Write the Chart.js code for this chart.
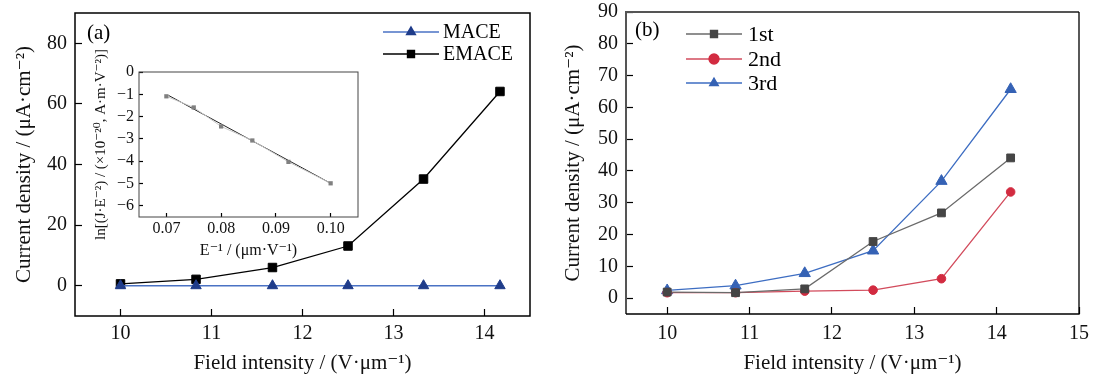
<!DOCTYPE html>
<html><head><meta charset="utf-8">
<script src="https://cdn.jsdelivr.net/npm/chart.js@4.4.0/dist/chart.umd.min.js"></script>
<style>
html,body{margin:0;padding:0;background:#fff;}
#wrap{position:relative;width:1094px;height:379px;overflow:hidden;background:#fff;}
canvas{position:absolute;}
</style></head><body>
<div id="wrap">
<canvas id="ca" width="545" height="379" style="left:0;top:0;width:545px;height:379px"></canvas>
<canvas id="ci" width="290" height="230" style="left:85px;top:40px;width:290px;height:230px"></canvas>
<canvas id="cb" width="549" height="379" style="left:545px;top:0;width:549px;height:379px"></canvas>
</div>
<script>
// ---------- DATA ----------
const fieldA = [10, 10.83, 11.67, 12.5, 13.33, 14.17];
const maceA = [0, 0, 0, 0, 0, 0];
const emaceA = [0.6, 2.1, 6.0, 13.1, 35.2, 64.1];

const invE = [0.0700, 0.0750, 0.0800, 0.0857, 0.0923, 0.1000];
const lnJE = [-1.09, -1.59, -2.44, -3.07, -4.03, -4.99];
const fitX = [0.0704, 0.1000];
const fitY = [-1.05, -4.99];

const fieldB = [10, 10.83, 11.67, 12.5, 13.33, 14.17];
const run1 = [1.9, 1.7, 2.9, 17.8, 26.8, 44.1];
const run2 = [1.7, 1.7, 2.2, 2.5, 6.1, 33.4];
const run3 = [2.4, 3.9, 7.8, 14.9, 36.8, 65.7];

const ticksAx = [10, 11, 12, 13, 14];
const ticksAy = [0, 20, 40, 60, 80];
const ticksIx = [0.07, 0.08, 0.09, 0.10];
const ticksIy = [0, -1, -2, -3, -4, -5, -6];
const ticksBx = [10, 11, 12, 13, 14, 15];
const ticksBy = [0, 10, 20, 30, 40, 50, 60, 70, 80, 90];

const labelsA = ['MACE', 'EMACE'];
const labelsB = ['1st', '2nd', '3rd'];
const titleX = 'Field intensity / (V·μm⁻¹)';
const titleY = 'Current density / (μA·cm⁻²)';
const titleIx = 'E⁻¹ / (μm·V⁻¹)';
const titleIy = 'ln[(J·E⁻²) / (×10⁻²⁰, A·m·V⁻²)]';

// ---------- HELPERS ----------
const FF = "'Liberation Serif', 'DejaVu Serif', serif";
const pts = (xs, ys) => xs.map((x, i) => ({x: x, y: ys[i]}));
const fixSize = (size) => (s) => {
  if (s.isHorizontal()) s.height = size; else s.width = size;
  s.paddingLeft = 0; s.paddingRight = 0; s.paddingTop = 0; s.paddingBottom = 0;
};
const setTicks = (arr) => (s) => { s.ticks = arr.map(v => ({value: v})); };
const minusFmt = (v) => (v < 0 ? '−' + Math.abs(v) : String(v));

const boxPlugin = {
  id: 'box',
  afterDraw(chart, args, o) {
    const a = chart.chartArea, ctx = chart.ctx;
    ctx.save();
    if (o.split) {
      ctx.lineWidth = o.tlWidth; ctx.strokeStyle = o.tlColor;
      ctx.beginPath(); ctx.moveTo(a.left, a.bottom); ctx.lineTo(a.left, a.top); ctx.lineTo(a.right, a.top); ctx.stroke();
      ctx.lineWidth = o.width; ctx.strokeStyle = o.color;
      ctx.beginPath(); ctx.moveTo(a.right, a.top); ctx.lineTo(a.right, a.bottom); ctx.lineTo(a.left, a.bottom); ctx.stroke();
    } else {
      ctx.lineWidth = o.width; ctx.strokeStyle = o.color;
      ctx.strokeRect(a.left, a.top, a.right - a.left, a.bottom - a.top);
    }
    ctx.restore();
  }
};

const legendPlugin = {
  id: 'ilegend',
  afterDraw(chart, args, o) {
    if (!o.items) return;
    const ctx = chart.ctx;
    ctx.save();
    if (o.tag) {
      ctx.font = o.tagFont + ' ' + FF; ctx.fillStyle = '#000';
      ctx.textAlign = 'left'; ctx.textBaseline = 'middle';
      ctx.fillText(o.tag, o.tagX, o.tagY);
    }
    o.items.forEach((idx, k) => {
      const ds = chart.data.datasets[idx];
      const y = o.ys[k];
      ctx.strokeStyle = ds.borderColor; ctx.lineWidth = ds.borderWidth;
      ctx.beginPath(); ctx.moveTo(o.x1, y); ctx.lineTo(o.x2, y); ctx.stroke();
      ctx.fillStyle = ds.pointBackgroundColor; ctx.strokeStyle = ds.pointBorderColor;
      Chart.helpers.drawPoint(ctx, {pointStyle: ds.pointStyle, radius: o.r, rotation: 0, borderWidth: 1}, (o.x1 + o.x2) / 2, y);
      ctx.fillStyle = '#000';
      ctx.font = o.font + ' ' + FF; ctx.textAlign = 'left'; ctx.textBaseline = 'middle';
      ctx.fillText(o.labels[k], o.xt, y + 1);
    });
    ctx.restore();
  }
};
Chart.register(boxPlugin, legendPlugin);

function axis(opts) {
  return {
    type: 'linear', min: opts.min, max: opts.max,
    afterFit: fixSize(opts.size),
    afterBuildTicks: setTicks(opts.ticks),
    grid: {drawOnChartArea: false, tickLength: opts.tl, tickColor: '#000', tickWidth: 1.2},
    border: {display: false},
    ticks: {color: '#111', padding: opts.pad, font: {family: FF, size: opts.fs},
            callback: opts.fmt || ((v) => minusFmt(v))},
    title: {display: true, text: opts.title, color: '#111',
            font: {family: FF, size: opts.tfs}, padding: opts.tpad}
  };
}

// ---------- CHART A ----------
new Chart(document.getElementById('ca'), {
  type: 'line',
  data: {datasets: [
    {label: labelsA[0], data: pts(fieldA, maceA), borderColor: '#4a72c4', borderWidth: 1.5,
     pointStyle: 'triangle', pointRadius: 6, pointBackgroundColor: '#1f3c8a', pointBorderColor: '#1f3c8a', pointBorderWidth: 1},
    {label: labelsA[1], data: pts(fieldA, emaceA), borderColor: '#000', borderWidth: 1.3,
     pointStyle: 'rect', pointRadius: 6, pointBackgroundColor: '#000', pointBorderColor: '#000', pointBorderWidth: 1}
  ]},
  options: {
    responsive: false, animation: false, devicePixelRatio: 1,
    layout: {padding: {left: 0, top: 13, right: 15, bottom: 0}},
    plugins: {legend: {display: false}, tooltip: {enabled: false},
      box: {width: 1.5, color: '#000'},
      ilegend: {items: [0, 1], labels: labelsA, x1: 383, x2: 439, xt: 443, ys: [32, 54], r: 5, font: '20px',
                tag: '(a)', tagX: 87, tagY: 33, tagFont: '21px'}},
    scales: {
      x: axis({min: 9.5, max: 14.5, size: 63, ticks: ticksAx, tl: -7, pad: 13, fs: 20, title: titleX, tfs: 21, tpad: {top: 0, bottom: 3.4}}),
      y: axis({min: -10, max: 90, size: 75, ticks: ticksAy, tl: -7, pad: 15, fs: 20, title: titleY, tfs: 21, tpad: {top: 12, bottom: 0}})
    }
  }
});

// ---------- INSET ----------
new Chart(document.getElementById('ci'), {
  type: 'line',
  data: {datasets: [
    {label: 'data', data: pts(invE, lnJE), borderColor: '#c8c8c8', borderWidth: 1,
     pointStyle: 'rect', pointRadius: 3, pointBackgroundColor: '#808080', pointBorderColor: '#808080', pointBorderWidth: 0},
    {label: 'fit', data: pts(fitX, fitY), borderColor: '#222', borderWidth: 1, pointRadius: 0}
  ]},
  options: {
    responsive: false, animation: false, devicePixelRatio: 1,
    layout: {padding: {left: 0, top: 32, right: 17, bottom: 0}},
    plugins: {legend: {display: false}, tooltip: {enabled: false}, box: {width: 1, color: '#444'}, ilegend: {}},
    scales: {
      x: axis({min: 0.065, max: 0.105, size: 53, ticks: ticksIx, tl: -4, pad: 6, fs: 16, title: titleIx, tfs: 16,
               tpad: {top: 0, bottom: 9.7}, fmt: (v) => v.toFixed(2)}),
      y: axis({min: -6.5, max: 0, size: 54, ticks: ticksIy, tl: -4, pad: 9, fs: 16, title: titleIy, tfs: 15, tpad: {top: 7, bottom: 0}})
    }
  }
});

// ---------- CHART B ----------
new Chart(document.getElementById('cb'), {
  type: 'line',
  data: {datasets: [
    {label: labelsB[0], data: pts(fieldB, run1), borderColor: '#6a6a6a', borderWidth: 1.3,
     pointStyle: 'rect', pointRadius: 5.5, pointBackgroundColor: '#454545', pointBorderColor: '#454545', pointBorderWidth: 1},
    {label: labelsB[1], data: pts(fieldB, run2), borderColor: '#d24b5c', borderWidth: 1.3,
     pointStyle: 'circle', pointRadius: 4.3, pointBackgroundColor: '#d22b40', pointBorderColor: '#d22b40', pointBorderWidth: 1},
    {label: labelsB[2], data: pts(fieldB, run3), borderColor: '#3d6dc2', borderWidth: 1.3,
     pointStyle: 'triangle', pointRadius: 6.5, pointBackgroundColor: '#3562b5', pointBorderColor: '#3562b5', pointBorderWidth: 1}
  ]},
  options: {
    responsive: false, animation: false, devicePixelRatio: 1,
    layout: {padding: {left: 0, top: 12, right: 15, bottom: 0}},
    plugins: {legend: {display: false}, tooltip: {enabled: false},
      box: {split: true, tlWidth: 2, tlColor: '#555', width: 1.3, color: '#000'},
      ilegend: {items: [0, 1, 2], labels: labelsB, x1: 141, x2: 197, xt: 203, ys: [34, 59, 83], r: 5, font: '22px',
                tag: '(b)', tagX: 90, tagY: 30, tagFont: '21px'}},
    scales: {
      x: axis({min: 9.5, max: 15, size: 65, ticks: ticksBx, tl: -7, pad: 15, fs: 20, title: titleX, tfs: 21, tpad: {top: 0, bottom: 3.4}}),
      y: axis({min: -5, max: 90, size: 81, ticks: ticksBy, tl: -7, pad: 15, fs: 20, title: titleY, tfs: 21, tpad: {top: 16, bottom: 0}})
    }
  }
});
</script>
</body></html>
